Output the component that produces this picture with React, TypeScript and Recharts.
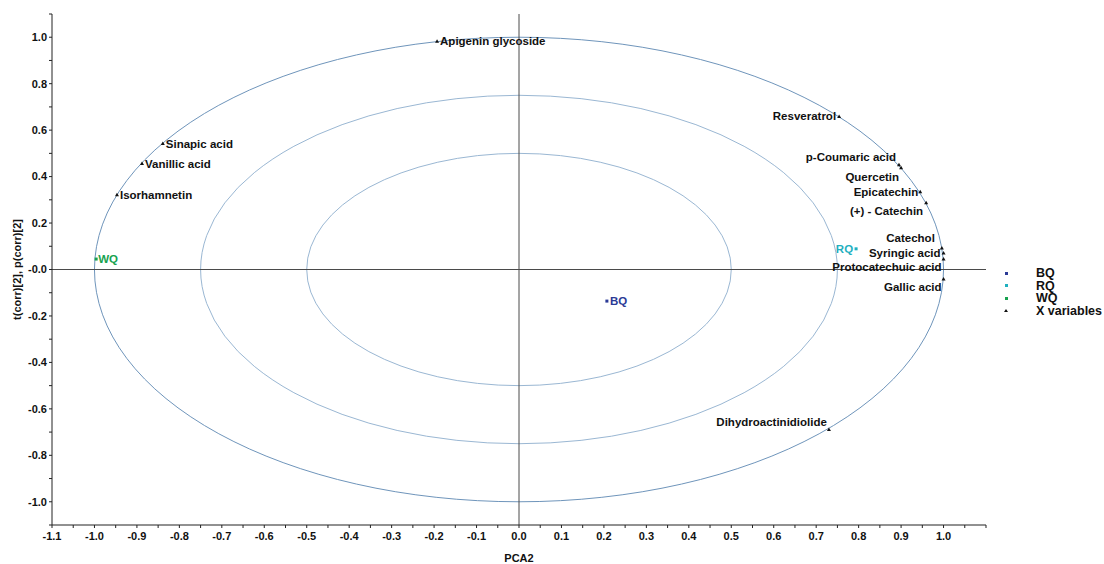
import { JSX } from 'react';
import {
	Label,
	ReferenceArea,
	ReferenceLine,
	Scatter,
	ScatterChart,
	XAxis,
	YAxis,
} from 'recharts';

// observations (scores)
const SAMPLE_NAMES = ['BQ', 'RQ', 'WQ'];
const SAMPLE_X = [0.207, 0.794, -0.996];
const SAMPLE_Y = [-0.136, 0.089, 0.045];
const SAMPLE_COLORS = ['#2b3a96', '#1fb0bf', '#17a24f'];

// variables (loadings)
const VARIABLE_NAMES = [
	'Apigenin glycoside',
	'Sinapic acid',
	'Vanillic acid',
	'Isorhamnetin',
	'Resveratrol',
	'p-Coumaric acid',
	'Quercetin',
	'Epicatechin',
	'(+) - Catechin',
	'Catechol',
	'Syringic acid',
	'Protocatechuic acid',
	'Gallic acid',
	'Dihydroactinidiolide',
];
const VARIABLE_X = [
	-0.193, -0.839, -0.888, -0.947, 0.754, 0.895, 0.9, 0.945, 0.959, 0.996,
	1.0, 1.0, 1.0, 0.73,
];
const VARIABLE_Y = [
	0.983, 0.542, 0.456, 0.322, 0.659, 0.451, 0.438, 0.335, 0.287, 0.093,
	0.071, 0.045, -0.041, -0.689,
];

const CIRCLE_RADII = [1, 0.75, 0.5];

const X_TICKS = [
	-1.1, -1.05, -1.0, -0.95, -0.9, -0.85, -0.8, -0.75, -0.7, -0.65, -0.6,
	-0.55, -0.5, -0.45, -0.4, -0.35, -0.3, -0.25, -0.2, -0.15, -0.1, -0.05, 0,
	0.05, 0.1, 0.15, 0.2, 0.25, 0.3, 0.35, 0.4, 0.45, 0.5, 0.55, 0.6, 0.65,
	0.7, 0.75, 0.8, 0.85, 0.9, 0.95, 1.0, 1.05, 1.1,
];
const Y_TICKS = [
	-1.1, -1.0, -0.9, -0.8, -0.7, -0.6, -0.5, -0.4, -0.3, -0.2, -0.1, 0, 0.1,
	0.2, 0.3, 0.4, 0.5, 0.6, 0.7, 0.8, 0.9, 1.0, 1.1,
];

type Place = { dx: number; dy: number; anchor: 'start' | 'end' };

// where each point's text sits relative to its marker
const LABEL_PLACE: Record<string, Place> = {
	'Apigenin glycoside': { dx: 3, dy: 0, anchor: 'start' },
	'Sinapic acid': { dx: 3, dy: 0, anchor: 'start' },
	'Vanillic acid': { dx: 3, dy: 0, anchor: 'start' },
	Isorhamnetin: { dx: 3, dy: 0, anchor: 'start' },
	Resveratrol: { dx: -3, dy: 0, anchor: 'end' },
	'p-Coumaric acid': { dx: -3, dy: -8, anchor: 'end' },
	Quercetin: { dx: -2, dy: 9, anchor: 'end' },
	Epicatechin: { dx: -2, dy: 0, anchor: 'end' },
	'(+) - Catechin': { dx: -3, dy: 8, anchor: 'end' },
	Catechol: { dx: -7, dy: -10, anchor: 'end' },
	'Syringic acid': { dx: -3, dy: 0, anchor: 'end' },
	'Protocatechuic acid': { dx: -2, dy: 8, anchor: 'end' },
	'Gallic acid': { dx: -2, dy: 8, anchor: 'end' },
	Dihydroactinidiolide: { dx: -2, dy: -8, anchor: 'end' },
	BQ: { dx: 3, dy: 0, anchor: 'start' },
	RQ: { dx: -3, dy: 0, anchor: 'end' },
	WQ: { dx: 2, dy: 0, anchor: 'start' },
};

const FONT = '"Liberation Sans", Arial, Helvetica, sans-serif';

const variableData = VARIABLE_NAMES.map((name, i) => ({
	id: name,
	x: VARIABLE_X[i],
	y: VARIABLE_Y[i],
}));

const sampleData = SAMPLE_NAMES.map((name, i) => [
	{ id: name, x: SAMPLE_X[i], y: SAMPLE_Y[i] },
]);

const formatX = (v: number): string => {
	const k = Math.round(v * 100);
	if (k % 10 !== 0 || k > 100) return '';
	return v.toFixed(1);
};

const formatY = (v: number): string => {
	const k = Math.round(v * 10);
	if (k % 2 !== 0 || Math.abs(k) > 10) return '';
	if (k === 0) return '-0.0';
	return v.toFixed(1);
};

const PointText = ({
	x,
	y,
	id,
	color,
}: {
	x: number;
	y: number;
	id: string;
	color: string;
}) => {
	const p = LABEL_PLACE[id] ?? { dx: 3, dy: 0, anchor: 'start' };
	return (
		<text
			x={x + p.dx}
			y={y + p.dy}
			textAnchor={p.anchor}
			dominantBaseline="central"
			fill={color}
			fontSize={11.5}
			fontWeight="bold"
			fontFamily={FONT}
		>
			{id}
		</text>
	);
};

const triangleShape = (props: any) => {
	const { cx, cy } = props;
	const id = props.payload?.id ?? props.id;
	return (
		<g>
			<path
				d={`M${cx},${cy - 2} L${cx + 2},${cy + 1.5} L${cx - 2},${cy + 1.5} Z`}
				fill="#111"
			/>
			<PointText x={cx} y={cy} id={id} color="#111" />
		</g>
	);
};

const squareShape = (color: string) => (props: any) => {
	const { cx, cy } = props;
	const id = props.payload?.id ?? props.id;
	return (
		<g>
			<rect x={cx - 1.5} y={cy - 1.5} width={3} height={3} fill={color} />
			<PointText x={cx} y={cy} id={id} color={color} />
		</g>
	);
};

const ellipseShape = (stroke: string) => (props: any) => {
	const { x, y, width, height } = props;
	return (
		<ellipse
			cx={x + width / 2}
			cy={y + height / 2}
			rx={width / 2}
			ry={height / 2}
			fill="none"
			stroke={stroke}
			strokeWidth={1}
		/>
	);
};

const LEGEND_ROWS = [
	...SAMPLE_NAMES.map((n, i) => ({ name: n, color: SAMPLE_COLORS[i], tri: false })),
	{ name: 'X variables', color: '#111', tri: true },
];

export default function App(): JSX.Element {
	return (
		<div
			style={{
				position: 'absolute',
				left: 0,
				top: 0,
				width: 1104,
				height: 564,
				background: '#fff',
				fontFamily: FONT,
			}}
		>
			<ScatterChart
				width={1104}
				height={564}
				margin={{ top: 14, right: 118, bottom: 9, left: 2 }}
			>
				{CIRCLE_RADII.map((r, i) => (
					<ReferenceArea
						key={r}
						x1={-r}
						x2={r}
						y1={-r}
						y2={r}
						ifOverflow="visible"
						shape={ellipseShape(i === 0 ? '#6f95bb' : '#9ab7d3')}
					/>
				))}
				<ReferenceLine y={0} stroke="#4a4a4a" strokeWidth={1} />
				<ReferenceLine x={0} stroke="#4a4a4a" strokeWidth={1} />
				<XAxis
					type="number"
					dataKey="x"
					domain={[-1.1, 1.1]}
					ticks={X_TICKS}
					interval={0}
					tickFormatter={formatX}
					allowDataOverflow
					height={30}
					tickSize={3}
					tickMargin={4}
					stroke="#222"
					tick={{ fill: '#111', fontSize: 11, fontWeight: 'bold', fontFamily: FONT }}
				>
					<Label
						content={(p: any) => {
							const vb = p.viewBox ?? { x: 52, y: 525, width: 934, height: 30 };
							return (
								<text
									x={vb.x + vb.width / 2}
									y={558}
									textAnchor="middle"
									dominantBaseline="central"
									fontSize={11}
									fontWeight="bold"
									fontFamily={FONT}
									fill="#111"
								>
									PCA2
								</text>
							);
						}}
					/>
				</XAxis>
				<YAxis
					type="number"
					dataKey="y"
					domain={[-1.1, 1.1]}
					ticks={Y_TICKS}
					interval={0}
					tickFormatter={formatY}
					allowDataOverflow
					width={50}
					tickSize={3}
					tickMargin={2}
					stroke="#222"
					tick={{ fill: '#111', fontSize: 11, fontWeight: 'bold', fontFamily: FONT }}
				>
					<Label
						content={(p: any) => {
							const vb = p.viewBox ?? { x: 2, y: 14, width: 50, height: 511 };
							const cx = 17;
							const cy = vb.y + vb.height / 2;
							return (
								<text
									x={cx}
									y={cy}
									transform={`rotate(-90 ${cx} ${cy})`}
									textAnchor="middle"
									dominantBaseline="central"
									fontSize={11}
									fontWeight="bold"
									fontFamily={FONT}
									fill="#111"
								>
									t(corr)[2], p(corr)[2]
								</text>
							);
						}}
					/>
				</YAxis>
				{SAMPLE_NAMES.map((name, i) => (
					<Scatter
						key={name}
						name={name}
						data={sampleData[i]}
						fill={SAMPLE_COLORS[i]}
						shape={squareShape(SAMPLE_COLORS[i])}
						isAnimationActive={false}
					/>
				))}
				<Scatter
					name="X variables"
					data={variableData}
					fill="#111"
					shape={triangleShape}
					isAnimationActive={false}
				/>
			</ScatterChart>

			<div style={{ position: 'absolute', left: 1000, top: 267 }}>
				{LEGEND_ROWS.map((row) => (
					<div
						key={row.name}
						style={{
							display: 'flex',
							alignItems: 'center',
							height: 12.5,
							fontSize: 12.5,
							fontWeight: 'bold',
							color: '#111',
						}}
					>
						<div style={{ width: 36, position: 'relative', height: 12 }}>
							{row.tri ? (
								<div
									style={{
										position: 'absolute',
										left: 4,
										top: 4,
										width: 0,
										height: 0,
										borderLeft: '2px solid transparent',
										borderRight: '2px solid transparent',
										borderBottom: `3px solid ${row.color}`,
									}}
								/>
							) : (
								<div
									style={{
										position: 'absolute',
										left: 4.5,
										top: 4.5,
										width: 3,
										height: 3,
										background: row.color,
									}}
								/>
							)}
						</div>
						<span>{row.name}</span>
					</div>
				))}
			</div>
		</div>
	);
}
